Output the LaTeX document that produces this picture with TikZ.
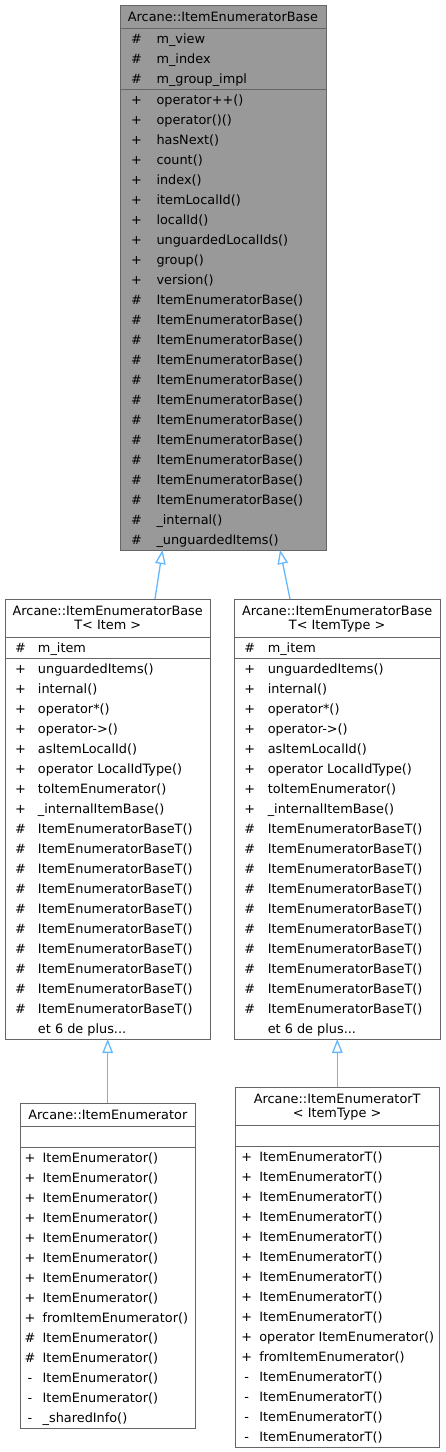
\documentclass[tikz,border=0pt]{standalone}
\usepackage{fontspec}
\setmainfont{DejaVu Sans}
\usepackage{colortbl}
\usetikzlibrary{arrows.meta,calc}

\definecolor{dxborder}{HTML}{666666}
\definecolor{dxfill}{HTML}{999999}
\definecolor{dxedge}{HTML}{63B8FF}
\setlength{\arrayrulewidth}{1pt}
\arrayrulecolor{dxborder}

% class name cells
\newcommand{\clsname}[1]{{\renewcommand{\arraystretch}{0.7}\begin{tabular}[b]{@{}c@{}}#1\end{tabular}}}
\newcommand{\onestrut}{\rule[-6.3pt]{0pt}{23pt}}
\newcommand{\twostrut}{\rule[-7.3pt]{0pt}{38pt}}

\begin{document}
\begin{tikzpicture}[x=1pt,y=-1pt,inner sep=0pt,outer sep=0pt,
    classbox/.style={draw=dxborder,line width=1pt,fill=white,anchor=north west,
        font=\fontsize{12.85}{20}\selectfont},
    basebox/.style={classbox,fill=dxfill},
    inherit/.style={draw=dxedge,line width=1.3pt,-{Triangle[open,length=14pt,width=10.5pt]}}]
    \useasboundingbox (0,0) rectangle (445,1452);

    % base class
    \node[basebox] (enum_base) at (120, 5)
    {
    \begin{tabular}{@{}w{c}{33pt}@{\hspace{3.5pt}}w{l}{169.5pt}@{}}
    \multicolumn{2}{@{}c@{}}{\onestrut Arcane::ItemEnumeratorBase} \\
    \hline
    \# & m\_view \\
    \# & m\_index \\
    \# & m\_group\_impl \\
    \hline
    + & operator++() \\
    + & operator()() \\
    + & hasNext() \\
    + & count() \\
    + & index() \\
    + & itemLocalId() \\
    + & localId() \\
    + & unguardedLocalIds() \\
    + & group() \\
    + & version() \\
    \# & ItemEnumeratorBase() \\
    \# & ItemEnumeratorBase() \\
    \# & ItemEnumeratorBase() \\
    \# & ItemEnumeratorBase() \\
    \# & ItemEnumeratorBase() \\
    \# & ItemEnumeratorBase() \\
    \# & ItemEnumeratorBase() \\
    \# & ItemEnumeratorBase() \\
    \# & ItemEnumeratorBase() \\
    \# & ItemEnumeratorBase() \\
    \# & ItemEnumeratorBase() \\
    \# & \_internal() \\
    \# & \_unguardedItems()
    \end{tabular}
    };

    % ItemEnumeratorBaseT< Item >
    \node[classbox] (enum_base_item) at (5, 599)
    {
    \begin{tabular}{@{}w{c}{31pt}@{\hspace{2pt}}w{l}{172.5pt}@{}}
    \multicolumn{2}{@{}c@{}}{\twostrut\clsname{Arcane::ItemEnumeratorBase\\T< Item >}} \\
    \hline
    \# & m\_item \\
    \hline
    + & unguardedItems() \\
    + & internal() \\
    + & operator*() \\
    + & operator->() \\
    + & asItemLocalId() \\
    + & operator LocalIdType() \\
    + & toItemEnumerator() \\
    + & \_internalItemBase() \\
    \# & ItemEnumeratorBaseT() \\
    \# & ItemEnumeratorBaseT() \\
    \# & ItemEnumeratorBaseT() \\
    \# & ItemEnumeratorBaseT() \\
    \# & ItemEnumeratorBaseT() \\
    \# & ItemEnumeratorBaseT() \\
    \# & ItemEnumeratorBaseT() \\
    \# & ItemEnumeratorBaseT() \\
    \# & ItemEnumeratorBaseT() \\
    \# & ItemEnumeratorBaseT() \\
     & et 6 de plus...
    \end{tabular}
    };

    % ItemEnumeratorBaseT< ItemType >
    \node[classbox] (enum_base_type) at (234.3, 599)
    {
    \begin{tabular}{@{}w{c}{31pt}@{\hspace{2.5pt}}w{l}{172.2pt}@{}}
    \multicolumn{2}{@{}c@{}}{\twostrut\clsname{Arcane::ItemEnumeratorBase\\T< ItemType >}} \\
    \hline
    \# & m\_item \\
    \hline
    + & unguardedItems() \\
    + & internal() \\
    + & operator*() \\
    + & operator->() \\
    + & asItemLocalId() \\
    + & operator LocalIdType() \\
    + & toItemEnumerator() \\
    + & \_internalItemBase() \\
    \# & ItemEnumeratorBaseT() \\
    \# & ItemEnumeratorBaseT() \\
    \# & ItemEnumeratorBaseT() \\
    \# & ItemEnumeratorBaseT() \\
    \# & ItemEnumeratorBaseT() \\
    \# & ItemEnumeratorBaseT() \\
    \# & ItemEnumeratorBaseT() \\
    \# & ItemEnumeratorBaseT() \\
    \# & ItemEnumeratorBaseT() \\
    \# & ItemEnumeratorBaseT() \\
     & et 6 de plus...
    \end{tabular}
    };

    % ItemEnumerator
    \node[classbox] (enum_item) at (20, 1103)
    {
    \begin{tabular}{@{}w{c}{20pt}@{\hspace{2.7pt}}w{l}{153pt}@{}}
    \multicolumn{2}{@{}c@{}}{\onestrut Arcane::ItemEnumerator} \\
    \hline
     & \\
    \hline
    + & ItemEnumerator() \\
    + & ItemEnumerator() \\
    + & ItemEnumerator() \\
    + & ItemEnumerator() \\
    + & ItemEnumerator() \\
    + & ItemEnumerator() \\
    + & ItemEnumerator() \\
    + & ItemEnumerator() \\
    + & fromItemEnumerator() \\
    \# & ItemEnumerator() \\
    \# & ItemEnumerator() \\
    - & ItemEnumerator() \\
    - & ItemEnumerator() \\
    - & \_sharedInfo()
    \end{tabular}
    };

    % ItemEnumeratorT< ItemType >
    \node[classbox] (enum_type) at (235, 1087)
    {
    \begin{tabular}{@{}w{c}{23.4pt}@{\hspace{0.9pt}}w{l}{180pt}@{}}
    \multicolumn{2}{@{}c@{}}{\twostrut\clsname{Arcane::ItemEnumeratorT\\< ItemType >}} \\
    \hline
     & \\
    \hline
    + & ItemEnumeratorT() \\
    + & ItemEnumeratorT() \\
    + & ItemEnumeratorT() \\
    + & ItemEnumeratorT() \\
    + & ItemEnumeratorT() \\
    + & ItemEnumeratorT() \\
    + & ItemEnumeratorT() \\
    + & ItemEnumeratorT() \\
    + & ItemEnumeratorT() \\
    + & operator ItemEnumerator() \\
    + & fromItemEnumerator() \\
    - & ItemEnumeratorT() \\
    - & ItemEnumeratorT() \\
    - & ItemEnumeratorT() \\
    - & ItemEnumeratorT()
    \end{tabular}
    };

    % inheritance
    \draw[inherit] ($(enum_base_item.north west)+(150,0)$) -- ($(enum_base.south west)+(42.5,0)$);
    \draw[inherit] ($(enum_base_type.north west)+(55.7,0)$) -- ($(enum_base.south west)+(160,0)$);
    \draw[inherit] ($(enum_item.north west)+(87.7,0)$) -- ($(enum_base_item.south west)+(102.7,0)$);
    \draw[inherit] ($(enum_type.north west)+(102.3,0)$) -- ($(enum_base_type.south west)+(103,0)$);

\end{tikzpicture}
\end{document}
